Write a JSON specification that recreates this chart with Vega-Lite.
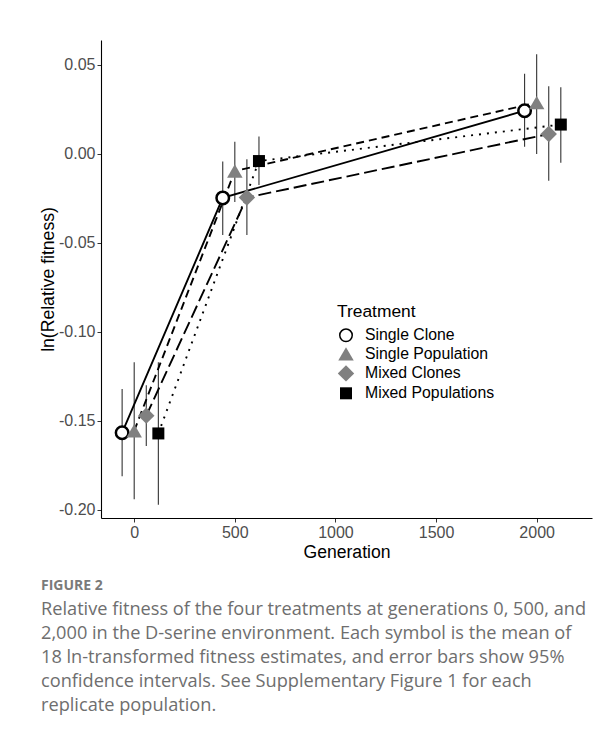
{
  "$schema": "https://vega.github.io/schema/vega-lite/v6.json",
  "autosize": {"type": "none"},
  "width": 491,
  "height": 478,
  "padding": {"left": 101, "top": 40, "right": 22, "bottom": 222},
  "background": "white",
  "config": {
    "view": {"stroke": null},
    "font": "Liberation Sans",
    "axis": {"grid": false, "domainColor": "black", "domainWidth": 1.1, "tickColor": "#333333", "tickSize": 4, "labelFontSize": 16, "labelColor": "#4d4d4d", "titleFontSize": 17.6, "titleFontWeight": "normal", "titleColor": "black", "labelPadding": 2},
    "legend": {"titleFontSize": 17.4, "titleFontWeight": "normal", "labelFontSize": 15.8, "titleColor": "black", "labelColor": "black"}
  },
  "title": {
    "text": "FIGURE 2",
    "subtitle": [
      "Relative fitness of the four treatments at generations 0, 500, and",
      "2,000 in the D-serine environment. Each symbol is the mean of",
      "18 ln-transformed fitness estimates, and error bars show 95%",
      "confidence intervals. See Supplementary Figure 1 for each",
      "replicate population."
    ],
    "orient": "bottom",
    "anchor": "start",
    "frame": "group",
    "dx": -60,
    "offset": 18,
    "font": "Open Sans",
    "fontSize": 14,
    "fontWeight": "bold",
    "color": "#7a7a7a",
    "subtitleFont": "Open Sans",
    "subtitleFontSize": 18.2,
    "subtitleColor": "#6e6e6e",
    "subtitleLineHeight": 24,
    "subtitlePadding": 8
  },
  "data": {
    "values": [
      {"Treatment": "Single Clone", "gen": -60, "mean": -0.1566, "lo": -0.181, "hi": -0.132},
      {"Treatment": "Single Clone", "gen": 440, "mean": -0.0247, "lo": -0.0455, "hi": -0.0043},
      {"Treatment": "Single Clone", "gen": 1940, "mean": 0.0243, "lo": 0.004, "hi": 0.045},
      {"Treatment": "Single Population", "gen": 0, "mean": -0.1555, "lo": -0.194, "hi": -0.117},
      {"Treatment": "Single Population", "gen": 500, "mean": -0.0096, "lo": -0.027, "hi": 0.0069},
      {"Treatment": "Single Population", "gen": 2000, "mean": 0.0288, "lo": 0.0, "hi": 0.056},
      {"Treatment": "Mixed Clones", "gen": 60, "mean": -0.147, "lo": -0.164, "hi": -0.130},
      {"Treatment": "Mixed Clones", "gen": 560, "mean": -0.0245, "lo": -0.0455, "hi": -0.003},
      {"Treatment": "Mixed Clones", "gen": 2060, "mean": 0.0112, "lo": -0.015, "hi": 0.038},
      {"Treatment": "Mixed Populations", "gen": 120, "mean": -0.157, "lo": -0.197, "hi": -0.117},
      {"Treatment": "Mixed Populations", "gen": 620, "mean": -0.004, "lo": -0.0174, "hi": 0.0098},
      {"Treatment": "Mixed Populations", "gen": 2120, "mean": 0.0165, "lo": -0.0049, "hi": 0.0375}
    ]
  },
  "encoding": {
    "x": {"field": "gen", "type": "quantitative", "title": "Generation",
      "scale": {"domain": [-165, 2275], "nice": false, "zero": false},
      "axis": {"values": [0, 500, 1000, 1500, 2000], "format": "d", "titlePadding": 3}},
    "y": {"field": "mean", "type": "quantitative", "title": "ln(Relative fitness)",
      "scale": {"domain": [-0.2045, 0.064], "nice": false, "zero": false},
      "axis": {"values": [-0.2, -0.15, -0.1, -0.05, 0, 0.05], "labelExpr": "replace(format(datum.value, '.2f'), '\u2212', '-')", "titlePadding": 1}}
  },
  "layer": [
    {
      "mark": {"type": "rule", "color": "#333333", "strokeWidth": 1.1},
      "encoding": {"y": {"field": "lo", "type": "quantitative"}, "y2": {"field": "hi"}}
    },
    {
      "transform": [{"filter": "datum.Treatment === 'Single Clone'"}],
      "mark": {"type": "line", "color": "black", "strokeWidth": 1.9},
      "encoding": {"order": {"field": "gen", "type": "quantitative"}}
    },
    {
      "transform": [{"filter": "datum.Treatment === 'Single Population'"}],
      "mark": {"type": "line", "color": "black", "strokeWidth": 1.9, "strokeDash": [8, 5]},
      "encoding": {"order": {"field": "gen", "type": "quantitative"}}
    },
    {
      "transform": [{"filter": "datum.Treatment === 'Mixed Clones'"}],
      "mark": {"type": "line", "color": "black", "strokeWidth": 1.9, "strokeDash": [13, 5]},
      "encoding": {"order": {"field": "gen", "type": "quantitative"}}
    },
    {
      "transform": [{"filter": "datum.Treatment === 'Mixed Populations'"}],
      "mark": {"type": "line", "color": "black", "strokeWidth": 1.9, "strokeDash": [2, 6]},
      "encoding": {"order": {"field": "gen", "type": "quantitative"}}
    },
    {
      "mark": {"type": "point", "strokeWidth": 2.5, "opacity": 1},
      "encoding": {
        "shape": {"field": "Treatment", "type": "nominal",
          "scale": {"domain": ["Single Clone", "Single Population", "Mixed Clones", "Mixed Populations"],
            "range": ["circle", "triangle-up", "diamond", "square"]},
          "legend": {"title": "Treatment", "orient": "none", "legendX": 236, "legendY": 263, "padding": 0, "titlePadding": 7, "rowPadding": -4.5, "labelOffset": 10}},
        "fill": {"field": "Treatment", "type": "nominal",
          "scale": {"domain": ["Single Clone", "Single Population", "Mixed Clones", "Mixed Populations"],
            "range": ["white", "#808080", "#808080", "black"]}},
        "stroke": {"field": "Treatment", "type": "nominal",
          "scale": {"domain": ["Single Clone", "Single Population", "Mixed Clones", "Mixed Populations"],
            "range": ["black", "transparent", "transparent", "transparent"]}},
        "size": {"field": "Treatment", "type": "nominal",
          "scale": {"type": "ordinal", "domain": ["Single Clone", "Single Population", "Mixed Clones", "Mixed Populations"],
            "range": [156, 240, 270, 144]}}
      }
    }
  ]
}
